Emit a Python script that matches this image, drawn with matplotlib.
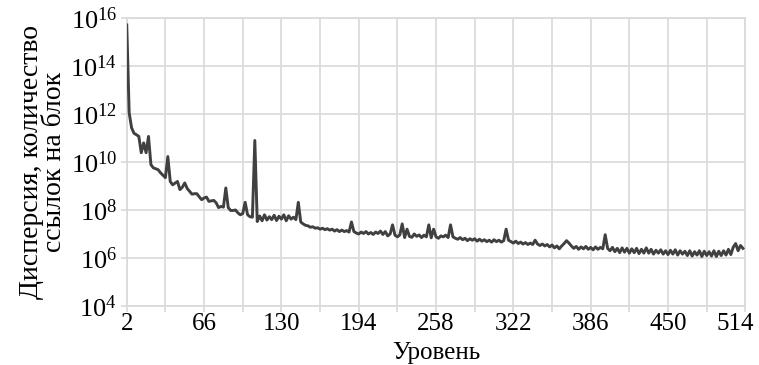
import numpy as np
import matplotlib
matplotlib.use('Agg')
import matplotlib.pyplot as plt
from matplotlib.ticker import FixedLocator, LogFormatterMathtext, NullLocator
from matplotlib.transforms import ScaledTranslation

plt.rcParams['font.family'] = ['Liberation Serif', 'DejaVu Serif']
plt.rcParams['mathtext.fontset'] = 'custom'
plt.rcParams['mathtext.rm'] = 'Liberation Serif'

# levels (every 2nd level) and log10 of the dispersion
levels = list(range(2, 513, 2))
log_disp = [
    15.72, 12.05, 11.43, 11.2, 11.14, 11.07, 10.39, 10.8, 10.39, 11.07,   # 2-20
    9.89, 9.76, 9.72, 9.68, 9.55, 9.45, 9.35, 10.23, 9.19, 9.05,          # 22-40
    9.12, 9.19, 8.85, 8.95, 9.13, 8.9, 8.78, 8.66, 8.68, 8.68,            # 42-60
    8.55, 8.43, 8.5, 8.54, 8.36, 8.38, 8.4, 8.3, 8.1, 8.15,               # 62-80
    8.12, 8.92, 8.1, 7.98, 7.98, 8.0, 7.88, 7.8, 7.85, 8.32,              # 82-100
    7.8, 7.72, 7.7, 10.9, 7.52, 7.75, 7.55, 7.8, 7.58, 7.72,              # 102-120
    7.6, 7.78, 7.56, 7.74, 7.62, 7.8, 7.55, 7.76, 7.62, 7.7,              # 122-140
    7.6, 8.32, 7.5, 7.42, 7.36, 7.34, 7.28, 7.3, 7.24, 7.26,              # 142-160
    7.2, 7.24, 7.18, 7.22, 7.16, 7.2, 7.12, 7.18, 7.1, 7.16,              # 162-180
    7.1, 7.14, 7.08, 7.5, 7.1, 7.04, 7.0, 7.08, 7.02, 7.1,                # 182-200
    7.0, 7.06, 6.98, 7.08, 7.02, 7.12, 6.98, 7.1, 6.92, 7.0,              # 202-220
    7.38, 6.95, 6.88, 6.96, 7.42, 6.85, 7.2, 6.9, 6.86, 7.0,              # 222-240
    6.9, 6.96, 6.85, 6.95, 6.88, 7.38, 6.84, 7.2, 6.88, 6.82,             # 242-260
    6.92, 6.88, 6.95, 6.85, 7.38, 6.88, 6.82, 6.78, 6.85, 6.76,           # 262-280
    6.82, 6.72, 6.8, 6.74, 6.8, 6.7, 6.78, 6.7, 6.76, 6.68,               # 282-300
    6.74, 6.66, 6.76, 6.68, 6.74, 6.66, 6.72, 7.2, 6.74, 6.68,            # 302-320
    6.62, 6.7, 6.6, 6.66, 6.58, 6.64, 6.56, 6.62, 6.56, 6.74,             # 322-340
    6.58, 6.52, 6.58, 6.5, 6.56, 6.46, 6.54, 6.42, 6.5, 6.38,             # 342-360
    6.5, 6.6, 6.72, 6.62, 6.5, 6.4, 6.48, 6.36, 6.46, 6.38,               # 362-380
    6.48, 6.36, 6.44, 6.34, 6.46, 6.36, 6.44, 6.38, 6.97, 6.4,            # 382-400
    6.3, 6.44, 6.26, 6.4, 6.22, 6.42, 6.24, 6.4, 6.2, 6.38,               # 402-420
    6.22, 6.4, 6.18, 6.36, 6.2, 6.42, 6.2, 6.36, 6.16, 6.32,              # 422-440
    6.2, 6.34, 6.16, 6.3, 6.14, 6.32, 6.16, 6.34, 6.12, 6.3,              # 442-460
    6.16, 6.28, 6.1, 6.3, 6.08, 6.26, 6.12, 6.3, 6.06, 6.28,              # 462-480
    6.1, 6.26, 6.08, 6.3, 6.06, 6.28, 6.1, 6.3, 6.12, 6.36,               # 482-500
    6.14, 6.45, 6.6, 6.3, 6.52, 6.4,                                      # 502-512
]
disp = 10 ** np.array(log_disp)

x_labels = [2, 66, 130, 194, 258, 322, 386, 450, 514]
x_minor = [34, 98, 162, 226, 290, 354, 418, 482]
y_ticks = [1e4, 1e6, 1e8, 1e10, 1e12, 1e14, 1e16]

grid_c = '#d9d9d9'

fig, ax = plt.subplots(figsize=(7.59, 3.65), dpi=100)
fig.subplots_adjust(left=0.167, right=0.982, top=0.95, bottom=0.162)

ax.plot(levels, disp, color='#404040', lw=2.1, zorder=3)

ax.set_yscale('log')
ax.set_ylim(1e4, 1e16)
ax.set_xlim(2, 514)
ax.yaxis.set_major_locator(FixedLocator(y_ticks))
ax.yaxis.set_minor_locator(NullLocator())
ax.yaxis.set_major_formatter(LogFormatterMathtext())
ax.xaxis.set_major_locator(FixedLocator(x_labels))
ax.xaxis.set_minor_locator(FixedLocator(x_minor))

ax.grid(True, which='both', color=grid_c, lw=1.2)
ax.set_axisbelow(True)
for s in ax.spines.values():
    s.set_color(grid_c)
    s.set_linewidth(1.2)

ax.tick_params(axis='both', which='both', color=grid_c, width=1.2, length=4)
ax.tick_params(axis='x', labelsize=18, pad=1)
ax.tick_params(axis='y', labelsize=19, pad=3)

# last label pulled inside the figure, as in the original
last = ax.get_xticklabels()[-1]
last.set_transform(last.get_transform() + ScaledTranslation(-10 / 100, 0, fig.dpi_scale_trans))

ax.set_ylabel('Дисперсия, количество\nссылок на блок', fontsize=20,
              linespacing=0.9, labelpad=2)
ax.set_xlabel('Уровень', fontsize=18, labelpad=5)

fig.savefig('out.png', dpi=100)
